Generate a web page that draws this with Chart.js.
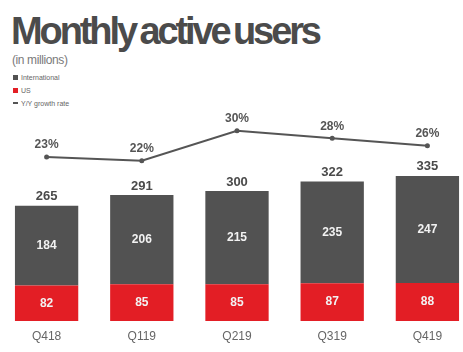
<!DOCTYPE html>
<html>
<head>
<meta charset="utf-8">
<script src="https://cdn.jsdelivr.net/npm/chart.js@4/dist/chart.umd.min.js"></script>
<style>
  html, body { margin: 0; padding: 0; background: #fff; overflow: hidden; }
  #wrap { position: relative; width: 463px; height: 352px; overflow: hidden; font-family: "Liberation Sans", Arial, sans-serif; }
  #title { position: absolute; left: 11px; top: 10px; font-size: 38px; font-weight: bold; color: #4b4b4b; letter-spacing: -3.1px; word-spacing: -3px; white-space: nowrap; }
  #subtitle { position: absolute; left: 12px; top: 53px; font-size: 12px; color: #7a7a7a; letter-spacing: -0.4px; }
  #legend { position: absolute; left: 13px; top: 73px; font-size: 7px; color: #666; }
  #legend div { height: 13px; line-height: 10px; white-space: nowrap; }
  #legend span.box { display: inline-block; width: 5px; height: 5px; margin-right: 3px; vertical-align: 0px; }
  #legend span.dash { display: inline-block; width: 5px; height: 2px; margin-right: 3px; vertical-align: 2px; }
  #chart { position: absolute; left: -1px; top: 0; }
</style>
</head>
<body>
<div id="wrap">
  <div id="title">Monthly active users</div>
  <div id="subtitle">(in millions)</div>
  <div id="legend"></div>
  <canvas id="chart" width="476" height="352"></canvas>
</div>
<script>
// Chart data
const quarters = ['Q418', 'Q119', 'Q219', 'Q319', 'Q419'];
const usUsers = [82, 85, 85, 87, 88];
const intlUsers = [184, 206, 215, 235, 247];
const totalUsers = [265, 291, 300, 322, 335];
const growthRate = [23, 22, 30, 28, 26];

const GREY = '#525252';
const RED = '#e31e25';
const LINE = '#555555';

// Draw value labels on bars and line points
const valueLabels = {
  id: 'valueLabels',
  afterDatasetsDraw(chart) {
    const ctx = chart.ctx;
    ctx.save();
    ctx.textAlign = 'center';
    ctx.textBaseline = 'middle';

    // inside bar segments
    [0, 1].forEach(i => {
      const meta = chart.getDatasetMeta(i);
      const values = chart.data.datasets[i].data;
      meta.data.forEach((bar, j) => {
        ctx.font = 'bold 12px "Liberation Sans", Arial, sans-serif';
        ctx.fillStyle = '#f2f2f2';
        ctx.fillText(values[j], bar.x, (bar.y + bar.base) / 2);
      });
    });

    // totals above the stack
    const topMeta = chart.getDatasetMeta(1);
    topMeta.data.forEach((bar, j) => {
      ctx.font = 'bold 13px "Liberation Sans", Arial, sans-serif';
      ctx.fillStyle = '#4a4a4a';
      ctx.fillText(totalUsers[j], bar.x, bar.y - 9);
    });

    // growth rate labels
    const lineMeta = chart.getDatasetMeta(2);
    lineMeta.data.forEach((pt, j) => {
      ctx.font = 'bold 12px "Liberation Sans", Arial, sans-serif';
      ctx.fillStyle = '#555';
      ctx.fillText(growthRate[j] + '%', pt.x, pt.y - 12);
    });
    ctx.restore();
  }
};

function buildLegend(chart) {
  const box = document.getElementById('legend');
  const items = [
    { ds: chart.data.datasets[1], cls: 'box' },
    { ds: chart.data.datasets[0], cls: 'box' },
    { ds: chart.data.datasets[2], cls: 'dash' }
  ];
  items.forEach(item => {
    const row = document.createElement('div');
    const color = item.ds.type === 'line' ? item.ds.borderColor : item.ds.backgroundColor;
    row.innerHTML = `<span class="${item.cls}" style="background:${color}"></span>${item.ds.label}`;
    box.appendChild(row);
  });
}

const ctx = document.getElementById('chart').getContext('2d');
const chart = new Chart(ctx, {
  type: 'bar',
  data: {
    labels: quarters,
    datasets: [
      {
        label: 'US',
        data: usUsers,
        backgroundColor: RED,
        stack: 'users',
        barPercentage: 0.665,
        categoryPercentage: 1,
        order: 2
      },
      {
        label: 'International',
        data: intlUsers,
        backgroundColor: GREY,
        stack: 'users',
        barPercentage: 0.665,
        categoryPercentage: 1,
        order: 2
      },
      {
        type: 'line',
        label: 'Y/Y growth rate',
        data: growthRate,
        yAxisID: 'y2',
        borderColor: LINE,
        backgroundColor: LINE,
        borderWidth: 2,
        pointRadius: 2.5,
        pointBackgroundColor: LINE,
        pointBorderWidth: 0,
        tension: 0,
        order: 1
      }
    ]
  },
  options: {
    responsive: false,
    animation: false,
    layout: { autoPadding: false, padding: { top: 120, bottom: 0.6, left: 0, right: 0 } },
    plugins: {
      legend: { display: false },
      tooltip: { enabled: false }
    },
    scales: {
      x: {
        stacked: true,
        grid: { display: false, drawTicks: false },
        border: { display: false },
        ticks: {
          padding: 8,
          color: '#666',
          font: { size: 12, family: '"Liberation Sans", Arial, sans-serif' }
        }
      },
      y: {
        stacked: true,
        display: false,
        min: 0,
        max: 464
      },
      y2: {
        display: false,
        min: -20.7,
        max: 32.85
      }
    }
  },
  plugins: [valueLabels]
});

buildLegend(chart);
</script>
</body>
</html>
